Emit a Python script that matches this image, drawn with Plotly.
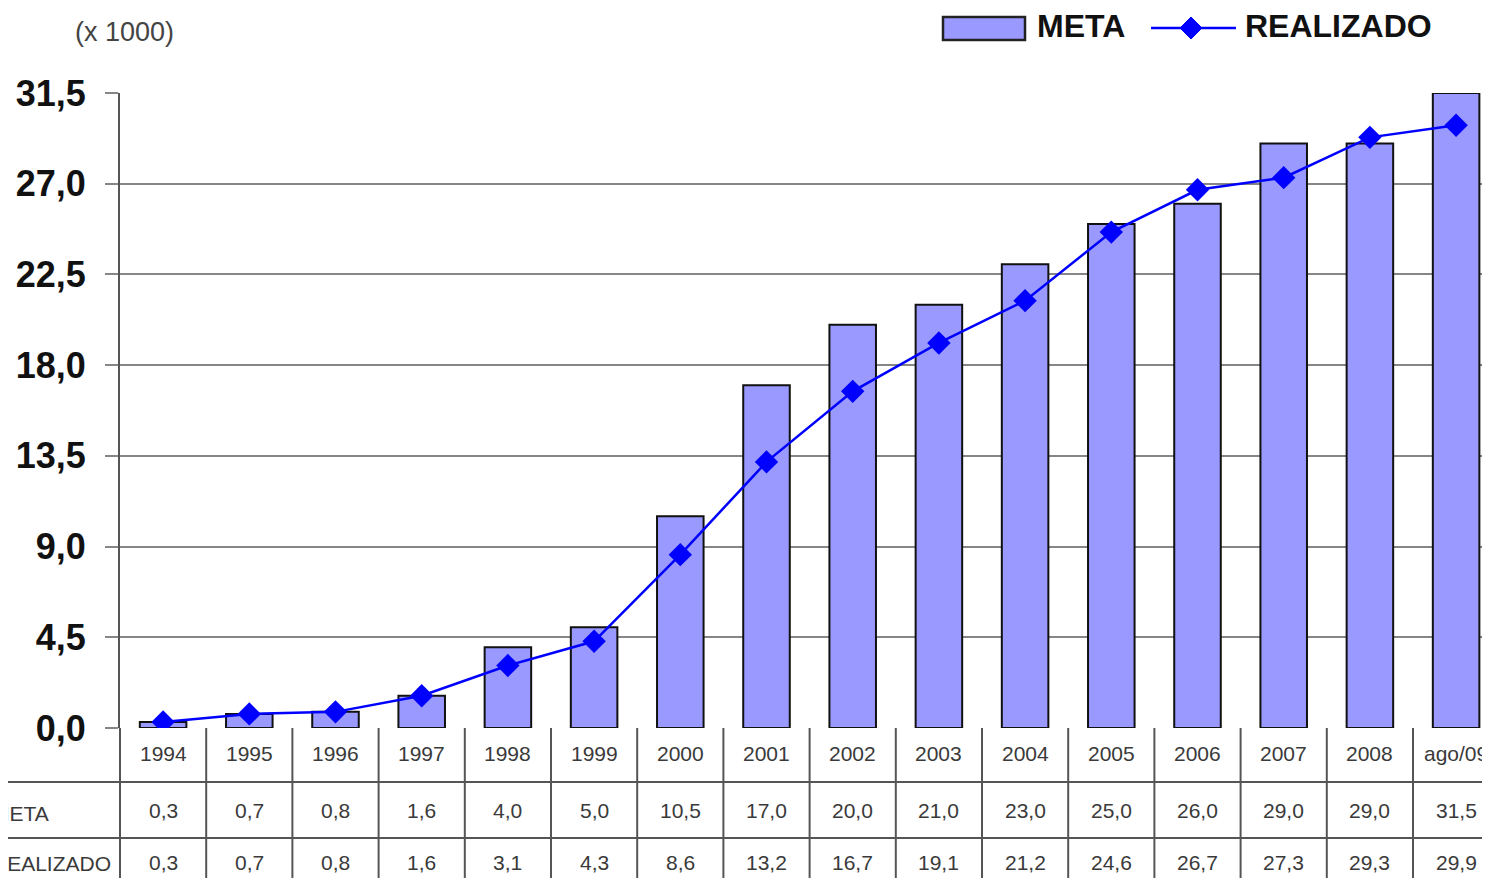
import plotly.graph_objects as go

categorias = ["1994", "1995", "1996", "1997", "1998", "1999", "2000", "2001",
              "2002", "2003", "2004", "2005", "2006", "2007", "2008", "ago/09"]
meta = [0.3, 0.7, 0.8, 1.6, 4.0, 5.0, 10.5, 17.0, 20.0, 21.0, 23.0, 25.0, 26.0, 29.0, 29.0, 31.5]
realizado = [0.3, 0.7, 0.8, 1.6, 3.1, 4.3, 8.6, 13.2, 16.7, 19.1, 21.2, 24.6, 26.7, 27.3, 29.3, 29.9]
y_ticks = [0.0, 4.5, 9.0, 13.5, 18.0, 22.5, 27.0, 31.5]

OFF = 8  # page body margin
W, H = 1490, 878
L = 120 - OFF
T = 93 - OFF
Y0 = 728 - OFF
B = H - Y0
PW, PH = W - L, Y0 - T


def fx(px):
    """reference page pixel x -> paper x"""
    return (px - OFF - L) / PW


def fy(py):
    """reference page pixel y -> paper y"""
    return (Y0 - (py - OFF)) / PH


def fmt(v):
    return f"{v:.1f}".replace(".", ",")


FONT = "Liberation Sans, Arial, sans-serif"
GRID = "#868686"
LINEC = "#555555"
TXT = "#3a3a3a"

fig = go.Figure()
fig.add_trace(go.Bar(x=categorias, y=meta, name="META", width=0.54,
                     marker=dict(color="#9999FF", line=dict(color="#111111", width=2)),
                     showlegend=False))
fig.add_trace(go.Scatter(x=categorias, y=realizado, name="REALIZADO", mode="lines+markers",
                         line=dict(color="#0000FF", width=2.5),
                         marker=dict(symbol="diamond", size=18, color="#0000FF"),
                         showlegend=False))

n = len(categorias)
px_per_cat = 86.2
x_right = -0.5 + PW / px_per_cat

shapes = []
annotations = []

# table vertical lines
for i in range(n + 1):
    shapes.append(dict(type="line", xref="x", yref="paper", x0=i - 0.5, x1=i - 0.5,
                       y0=0, y1=fy(H + 20), line=dict(color=LINEC, width=2), layer="above"))
# table horizontal lines
for py in (782, 838):
    shapes.append(dict(type="line", xref="paper", yref="paper", x0=fx(-5), x1=1.02,
                       y0=fy(py), y1=fy(py), line=dict(color=LINEC, width=2)))

# table texts
tfont = dict(family=FONT, size=21, color=TXT)
for i, c in enumerate(categorias):
    annotations.append(dict(x=i, xref="x", y=fy(753), yref="paper", text=c, showarrow=False,
                            font=tfont, xanchor="center", yanchor="middle"))
    annotations.append(dict(x=i, xref="x", y=fy(810), yref="paper", text=fmt(meta[i]), showarrow=False,
                            font=tfont, xanchor="center", yanchor="middle"))
    annotations.append(dict(x=i, xref="x", y=fy(862), yref="paper", text=fmt(realizado[i]), showarrow=False,
                            font=tfont, xanchor="center", yanchor="middle"))

annotations.append(dict(x=fx(-10), xref="paper", y=fy(813), yref="paper", text="META", showarrow=False,
                        font=tfont, xanchor="left", yanchor="middle"))
annotations.append(dict(x=fx(-10), xref="paper", y=fy(863), yref="paper", text="REALIZADO", showarrow=False,
                        font=tfont, xanchor="left", yanchor="middle"))

# unit label
annotations.append(dict(x=fx(73), xref="paper", y=fy(32), yref="paper", text="(x 1000)", showarrow=False,
                        font=dict(family=FONT, size=27, color="#444444"), xanchor="left", yanchor="middle"))

# custom legend
shapes.append(dict(type="rect", xref="paper", yref="paper", x0=fx(943), x1=fx(1025), y0=fy(40), y1=fy(17),
                   fillcolor="#9999FF", line=dict(color="#222222", width=2.5)))
annotations.append(dict(x=fx(1035), xref="paper", y=fy(26), yref="paper", text="<b>META</b>", showarrow=False,
                        font=dict(family=FONT, size=32, color="#111111"), xanchor="left", yanchor="middle"))
shapes.append(dict(type="line", xref="paper", yref="paper", x0=fx(1151), x1=fx(1236), y0=fy(28), y1=fy(28),
                   line=dict(color="#0000FF", width=2.5)))
shapes.append(dict(type="path", xref="paper", yref="paper", xsizemode="pixel", ysizemode="pixel",
                   xanchor=fx(1191), yanchor=fy(28), path="M -11 0 L 0 11 L 11 0 L 0 -11 Z",
                   fillcolor="#0000FF", line=dict(color="#0000FF", width=1)))
annotations.append(dict(x=fx(1243), xref="paper", y=fy(26), yref="paper", text="<b>REALIZADO</b>", showarrow=False,
                        font=dict(family=FONT, size=32, color="#111111"), xanchor="left", yanchor="middle"))

# extend left axis line down through table
shapes.append(dict(type="line", xref="paper", yref="paper", x0=0, x1=0, y0=0, y1=fy(H + 20),
                   line=dict(color=LINEC, width=2)))

fig.update_layout(
    width=W, height=H,
    margin=dict(l=L, r=0, t=T, b=B, autoexpand=False),
    paper_bgcolor="white", plot_bgcolor="white",
    bargap=0.46,
    shapes=shapes, annotations=annotations,
    xaxis=dict(type="category", range=[-0.5, x_right], showticklabels=False, showgrid=False,
               zeroline=False, showline=False, ticks=""),
    yaxis=dict(range=[0, 31.5], tickvals=y_ticks, ticktext=[fmt(v) for v in y_ticks],
               showgrid=True, gridcolor=GRID, gridwidth=2, zeroline=False,
               showline=True, linecolor=LINEC, linewidth=2,
               ticks="outside", ticklen=13, tickcolor=GRID, tickwidth=2,
               ticklabelstandoff=12,
               tickfont=dict(family=FONT, size=36, color="#111111", weight="bold")),
)

fig.write_html("out.html")
